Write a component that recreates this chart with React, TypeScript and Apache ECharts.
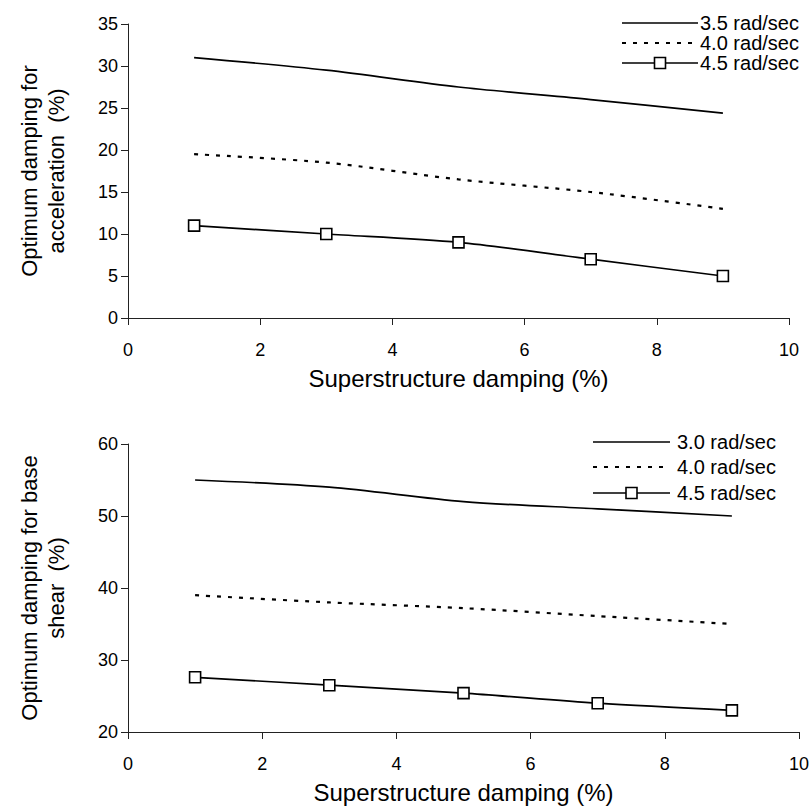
import React, { useEffect, useRef } from "react";
import * as echarts from "echarts";

const xTicks = [0, 2, 4, 6, 8, 10];
const xValues = [1, 3, 5, 7, 9];

const accelSeriesNames = ["3.5 rad/sec", "4.0 rad/sec", "4.5 rad/sec"];
const accel35 = [31, 29.5, 27.5, 26, 24.4];
const accel40 = [19.5, 18.5, 16.5, 15, 13];
const accel45 = [11, 10, 9, 7, 5];

const shearSeriesNames = ["3.0 rad/sec", "4.0 rad/sec", "4.5 rad/sec"];
const shear30 = [55, 54, 52, 51, 50];
const shear40 = [39, 38, 37.2, 36.1, 35];
const shear45 = [27.6, 26.5, 25.4, 24, 23];

const FONT = "'Liberation Sans', Arial, sans-serif";
const DOT = [4, 7];

const pairs = (ys: number[]) => xValues.map((x, i) => [x, ys[i]]);

const axisCommon = {
  axisLine: { show: true, lineStyle: { color: "#222", width: 1 } },
  axisTick: { show: true, inside: false, length: 7, lineStyle: { color: "#222" } },
  splitLine: { show: false },
  axisLabel: { color: "#000", fontSize: 18, fontFamily: FONT },
  nameTextStyle: { color: "#000", fontSize: 22, fontFamily: FONT },
};

function lineSeries(name: string, data: number[][], idx: number, kind: "solid" | "dotted" | "marker") {
  return {
    name,
    type: "line",
    xAxisIndex: idx,
    yAxisIndex: idx,
    data,
    smooth: 0.3,
    symbol: kind === "marker" ? "rect" : "none",
    symbolSize: 11,
    showSymbol: kind === "marker",
    itemStyle: { color: "#fff", borderColor: "#000", borderWidth: 1.6 },
    lineStyle: {
      color: "#000",
      width: kind === "dotted" ? 2.2 : 1.7,
      type: kind === "dotted" ? DOT : "solid",
    },
    emphasis: { disabled: true },
  };
}

function legendGraphics(names: string[], x0: number, x1: number, textX: number, ys: number[], fontSize: number) {
  const els: any[] = [];
  names.forEach((name, i) => {
    const y = ys[i];
    els.push({
      type: "line",
      shape: { x1: x0, y1: y, x2: x1, y2: y },
      style: { stroke: "#000", lineWidth: i === 1 ? 2.2 : 1.7, lineDash: i === 1 ? DOT : null },
      silent: true,
    });
    if (i === 2) {
      const cx = (x0 + x1) / 2;
      els.push({
        type: "rect",
        shape: { x: cx - 5.5, y: y - 5.5, width: 11, height: 11 },
        style: { fill: "#fff", stroke: "#000", lineWidth: 1.6 },
        silent: true,
      });
    }
    els.push({
      type: "text",
      x: textX,
      y,
      style: {
        text: name,
        fill: "#000",
        font: `${fontSize}px ${FONT}`,
        verticalAlign: "middle",
      },
      silent: true,
    });
  });
  return els;
}

export default function App() {
  const ref = useRef<HTMLDivElement>(null);
  useEffect(() => {
    if (!ref.current) return;
    const chart = echarts.init(ref.current, undefined, { renderer: "svg" });
    chart.setOption({
      animation: false,
      backgroundColor: "#fff",
      textStyle: { fontFamily: FONT },
      grid: [
        { left: 128, top: 24, width: 661, height: 294 },
        { left: 128, top: 444, width: 671, height: 288 },
      ],
      xAxis: [0, 1].map((g) => ({
        ...axisCommon,
        gridIndex: g,
        type: "value",
        min: xTicks[0],
        max: xTicks[xTicks.length - 1],
        interval: 2,
        name: "Superstructure damping (%)",
        nameLocation: "middle",
        nameGap: 48,
        nameTextStyle: { ...axisCommon.nameTextStyle, fontSize: 24 },
        axisLabel: { ...axisCommon.axisLabel, margin: 23 },
      })),
      yAxis: [
        {
          ...axisCommon,
          gridIndex: 0,
          type: "value",
          min: 0,
          max: 35,
          interval: 5,
          name: "Optimum damping for\nacceleration  (%)",
          nameLocation: "middle",
          nameGap: 58,
          nameTextStyle: { ...axisCommon.nameTextStyle, lineHeight: 27 },
          axisLabel: { ...axisCommon.axisLabel, margin: 10 },
        },
        {
          ...axisCommon,
          gridIndex: 1,
          type: "value",
          min: 20,
          max: 60,
          interval: 10,
          name: "Optimum damping for base\nshear  (%)",
          nameLocation: "middle",
          nameGap: 58,
          nameTextStyle: { ...axisCommon.nameTextStyle, lineHeight: 27 },
          axisLabel: { ...axisCommon.axisLabel, margin: 10 },
        },
      ],
      graphic: [
        ...legendGraphics(accelSeriesNames, 622, 698, 700, [23, 43, 63], 20),
        ...legendGraphics(shearSeriesNames, 593, 670, 677, [442, 467, 493], 20),
      ],
      series: [
        lineSeries(accelSeriesNames[0], pairs(accel35), 0, "solid"),
        lineSeries(accelSeriesNames[1], pairs(accel40), 0, "dotted"),
        lineSeries(accelSeriesNames[2], pairs(accel45), 0, "marker"),
        lineSeries(shearSeriesNames[0], pairs(shear30), 1, "solid"),
        lineSeries(shearSeriesNames[1], pairs(shear40), 1, "dotted"),
        lineSeries(shearSeriesNames[2], pairs(shear45), 1, "marker"),
      ],
    });
    return () => chart.dispose();
  }, []);
  return <div ref={ref} style={{ width: 812, height: 808, position: "absolute", left: 0, top: 0 }} />;
}
